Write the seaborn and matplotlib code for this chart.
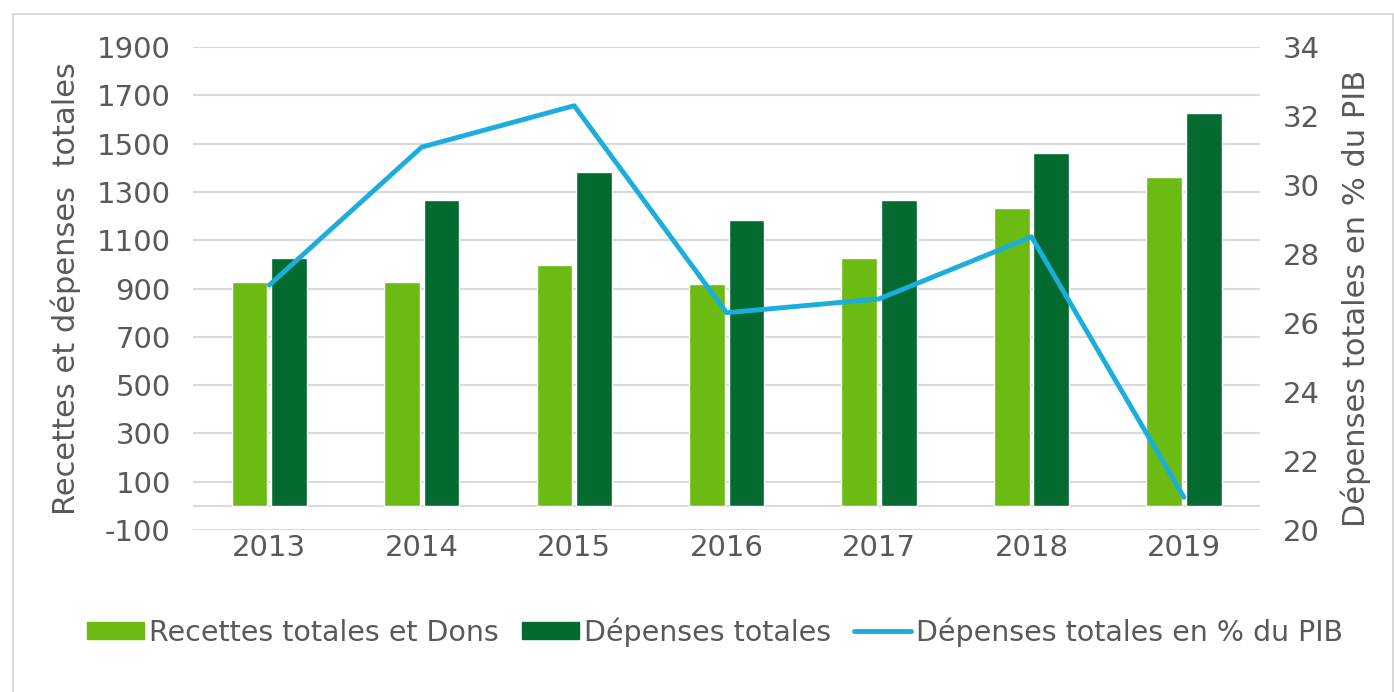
import numpy as np
import pandas as pd
import matplotlib.pyplot as plt
import seaborn as sns
from matplotlib.patches import Rectangle
from matplotlib.lines import Line2D

years = ['2013', '2014', '2015', '2016', '2017', '2018', '2019']
recettes = [927, 927, 997, 918, 1026, 1232, 1360]
depenses = [1026, 1265, 1382, 1185, 1265, 1461, 1627]
dep_pib = [27.1, 31.1, 32.3, 26.3, 26.7, 28.5, 20.95]

lbl_rec = 'Recettes totales et Dons'
lbl_dep = 'Dépenses totales'
lbl_pib = 'Dépenses totales en % du PIB'

c_light = '#6CBB12'
c_dark = '#036B30'
c_blue = '#1BAEDD'
c_text = '#595959'
c_grid = '#D9D9D9'

df = pd.DataFrame({
    'annee': years * 2,
    'valeur': recettes + depenses,
    'serie': [lbl_rec] * len(years) + [lbl_dep] * len(years),
})

sns.set_style('white')
plt.rcParams['font.family'] = ['DejaVu Sans']
plt.rcParams['axes.unicode_minus'] = False

fig = plt.figure(figsize=(13.94, 6.92), dpi=100)
ax = fig.add_axes([0.1385, 0.234, 0.7655, 0.698])

sns.barplot(data=df, x='annee', y='valeur', hue='serie',
            palette=[c_light, c_dark], width=0.52, gap=0.1,
            saturation=1, ax=ax, legend=False)

ax.set_ylim(-100, 1900)
ax.set_yticks(np.arange(-100, 1901, 200))
ax.set_xlim(-0.5, 6.5)
ax.grid(axis='y', color=c_grid, linewidth=1.5)
ax.set_axisbelow(True)
ax.axhline(0, color=c_grid, linewidth=1.5, zorder=0.5)
for s in ax.spines.values():
    s.set_visible(False)
ax.tick_params(axis='y', length=0, pad=16, labelsize=21, labelcolor=c_text)
ax.tick_params(axis='x', length=0, pad=3, labelsize=21, labelcolor=c_text)
ax.set_xlabel('')
ax.set_ylabel('Recettes et dépenses  totales', fontsize=22, color=c_text)
ax.yaxis.set_label_coords(-0.105, 0.5)

# axe secondaire : dépenses en % du PIB
ax2 = ax.twinx()
sns.lineplot(x=np.arange(len(years)), y=dep_pib, color=c_blue,
             linewidth=3.5, ax=ax2)
ax2.set_ylim(20, 34)
ax2.set_yticks(np.arange(20, 35, 2))
ax2.grid(False)
for s in ax2.spines.values():
    s.set_visible(False)
ax2.tick_params(axis='y', length=0, pad=16, labelsize=21, labelcolor=c_text)
ax2.set_ylabel(lbl_pib, fontsize=22, color=c_text, rotation=90)
ax2.yaxis.set_label_coords(1.075, 0.48)

handles = [
    Rectangle((0, 0), 1, 1, color=c_light),
    Rectangle((0, 0), 1, 1, color=c_dark),
    Line2D([0], [0], color=c_blue, linewidth=3.5),
]
fig.legend(handles, [lbl_rec, lbl_dep, lbl_pib], loc='center',
           bbox_to_anchor=(0.513, 0.087), ncol=3, frameon=False,
           fontsize=20.5, labelcolor=c_text, handlelength=2.0,
           handleheight=0.55, handletextpad=0.18, columnspacing=0.8)

fig.patches.append(Rectangle((0.009, -0.01), 0.99, 0.99, transform=fig.transFigure,
                             fill=False, edgecolor='#D0D0D0', linewidth=1.2))

plt.savefig('out.png', dpi=100)
